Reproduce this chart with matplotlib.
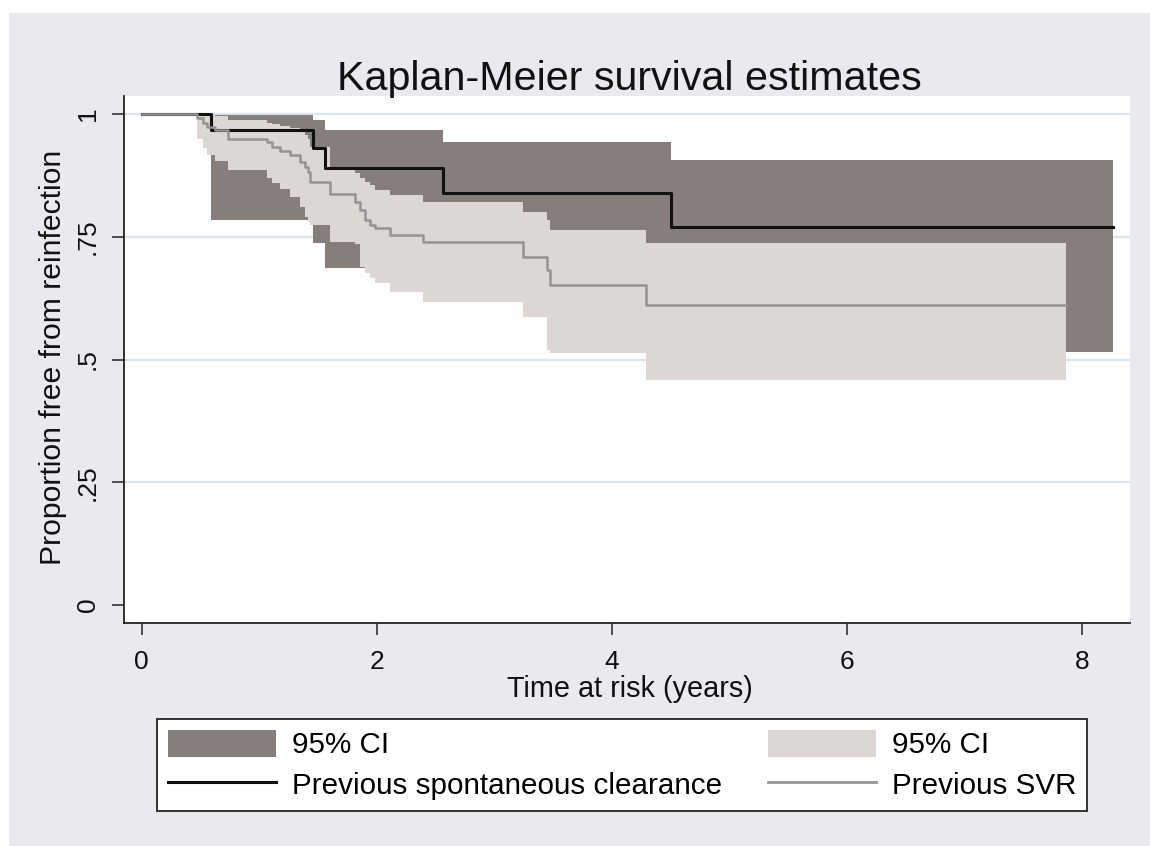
import matplotlib
matplotlib.use("Agg")
import matplotlib.pyplot as plt
import numpy as np
from matplotlib.patches import Rectangle, Patch
from matplotlib.lines import Line2D

plt.rcParams['font.family'] = ['Liberation Sans', 'DejaVu Sans']

# ---------------- data ----------------
# Previous spontaneous clearance (KM estimate + 95% CI)
sc_time = [0.0, 0.588, 1.458, 1.557, 2.564, 4.50, 8.264]
sc_surv = [1.0, 0.967, 0.930, 0.890, 0.840, 0.770, 0.770]
sc_lo = [np.nan, 0.784, 0.737, 0.686, 0.655, 0.516, 0.516]
sc_hi = [np.nan, 0.998, 0.988, 0.967, 0.944, 0.906, 0.906]

# Previous SVR (KM estimate + 95% CI)
svr_time = [0.0, 0.47, 0.525, 0.554, 0.624, 0.738, 1.064, 1.107, 1.18, 1.262,
            1.347, 1.39, 1.418, 1.433, 1.603, 1.815, 1.858, 1.90, 1.943, 1.985,
            2.11, 2.397, 3.247, 3.446, 3.474, 4.291, 7.86]
svr_surv = [1.0, 0.991, 0.981, 0.974, 0.967, 0.950, 0.944, 0.933, 0.925, 0.916,
            0.903, 0.893, 0.882, 0.862, 0.838, 0.821, 0.804, 0.784, 0.774, 0.767,
            0.754, 0.740, 0.709, 0.682, 0.652, 0.611, 0.611]
svr_lo = [np.nan, 0.95, 0.93, 0.916, 0.905, 0.886, 0.869, 0.859, 0.848, 0.83,
          0.81, 0.79, 0.78, 0.774, 0.74, 0.735, 0.689, 0.676, 0.665, 0.656,
          0.638, 0.618, 0.587, 0.52, 0.513, 0.458, 0.458]
svr_hi = [np.nan, 1.0, 1.0, 1.0, 0.995, 0.988, 0.981, 0.98, 0.975, 0.971,
          0.965, 0.957, 0.95, 0.933, 0.893, 0.88, 0.869, 0.862, 0.855, 0.845,
          0.835, 0.821, 0.801, 0.784, 0.764, 0.737, 0.737]

x_ticks = [0, 2, 4, 6, 8]
y_ticks = [0, 0.25, 0.5, 0.75, 1]
y_tick_labels = ['0', '.25', '.5', '.75', '1']

title = 'Kaplan-Meier survival estimates'
x_label = 'Time at risk (years)'
y_label = 'Proportion free from reinfection'
legend_labels = ['95% CI', 'Previous spontaneous clearance', '95% CI', 'Previous SVR']

# ---------------- style ----------------
W, H = 1150, 846
bg_outer = '#e8eaee'
dark_ci = '#857e7b'
light_ci = '#dcd7d5'
grid_col = '#dbe5ee'
grey_line = '#939393'
text_col = '#111111'

fig = plt.figure(figsize=(W / 100, H / 100), dpi=100, facecolor='white')
fig.patches.append(Rectangle((9 / W, 0), 1 - 9 / W, 1 - 13 / H,
                             transform=fig.transFigure, facecolor=bg_outer,
                             edgecolor='none', zorder=-10))

ax = fig.add_axes([124 / W, 1 - 623 / H, (1130 - 124) / W, (623 - 96) / H])
ax.set_facecolor('#fefefe')

ax.fill_between(sc_time[1:], sc_lo[1:], sc_hi[1:], step='post',
                facecolor=dark_ci, edgecolor='none', linewidth=0, zorder=2)
ax.fill_between(svr_time[1:], svr_lo[1:], svr_hi[1:], step='post',
                facecolor=light_ci, edgecolor='none', linewidth=0, zorder=3)
ax.step(sc_time, sc_surv, where='post', color=text_col, linewidth=2.2, zorder=4)
ax.step(svr_time, svr_surv, where='post', color=grey_line, linewidth=1.8, zorder=5)

ax.set_xlim(-0.1497, 8.408)
ax.set_ylim(-0.0367, 1.0367)

ax.set_xticks(x_ticks)
ax.set_xticklabels([str(v) for v in x_ticks])
ax.set_yticks(y_ticks)
ax.set_yticklabels(y_tick_labels)

ax.yaxis.grid(True, color=grid_col, linewidth=1.6, zorder=1)
ax.set_axisbelow(True)
ax.get_ygridlines()[0].set_visible(False)

for s in ['top', 'right']:
    ax.spines[s].set_visible(False)
for s in ['left', 'bottom']:
    ax.spines[s].set_color('#222222')
    ax.spines[s].set_linewidth(1.3)

ax.tick_params(axis='both', direction='out', length=8.6, width=1.1,
               color='#222222', labelsize=19, labelcolor=text_col)
ax.tick_params(axis='x', pad=10.5)
ax.tick_params(axis='y', pad=9, labelrotation=90)
for lab in ax.get_yticklabels():
    lab.set_va('center')

fig.text(629 / W, 1 - 90 / H, title, ha='center', va='baseline',
         fontsize=29.7, color=text_col)
fig.text(630 / W, 1 - 697 / H, x_label, ha='center', va='baseline',
         fontsize=20.8, color=text_col)
fig.text(53 / W, 1 - 357 / H, y_label, ha='center', va='center',
         rotation=90, fontsize=21.7, color=text_col)

handles = [Patch(facecolor=dark_ci, edgecolor='none'),
           Line2D([], [], color=text_col, linewidth=2.2),
           Patch(facecolor=light_ci, edgecolor='none'),
           Line2D([], [], color=grey_line, linewidth=2.0)]
leg = fig.legend(handles, legend_labels, ncol=2,
                 bbox_to_anchor=(157 / W, 1 - 719 / H),
                 loc='upper left', borderaxespad=0,
                 fontsize=21.3, handlelength=3.65, handleheight=1.05,
                 handletextpad=0.54, columnspacing=1.55,
                 borderpad=0.36, labelspacing=0.37,
                 frameon=True, fancybox=False, framealpha=1,
                 facecolor='white', edgecolor='#333333')
leg.get_frame().set_linewidth(1.4)

fig.savefig('out.png', dpi=100, facecolor=fig.get_facecolor())
